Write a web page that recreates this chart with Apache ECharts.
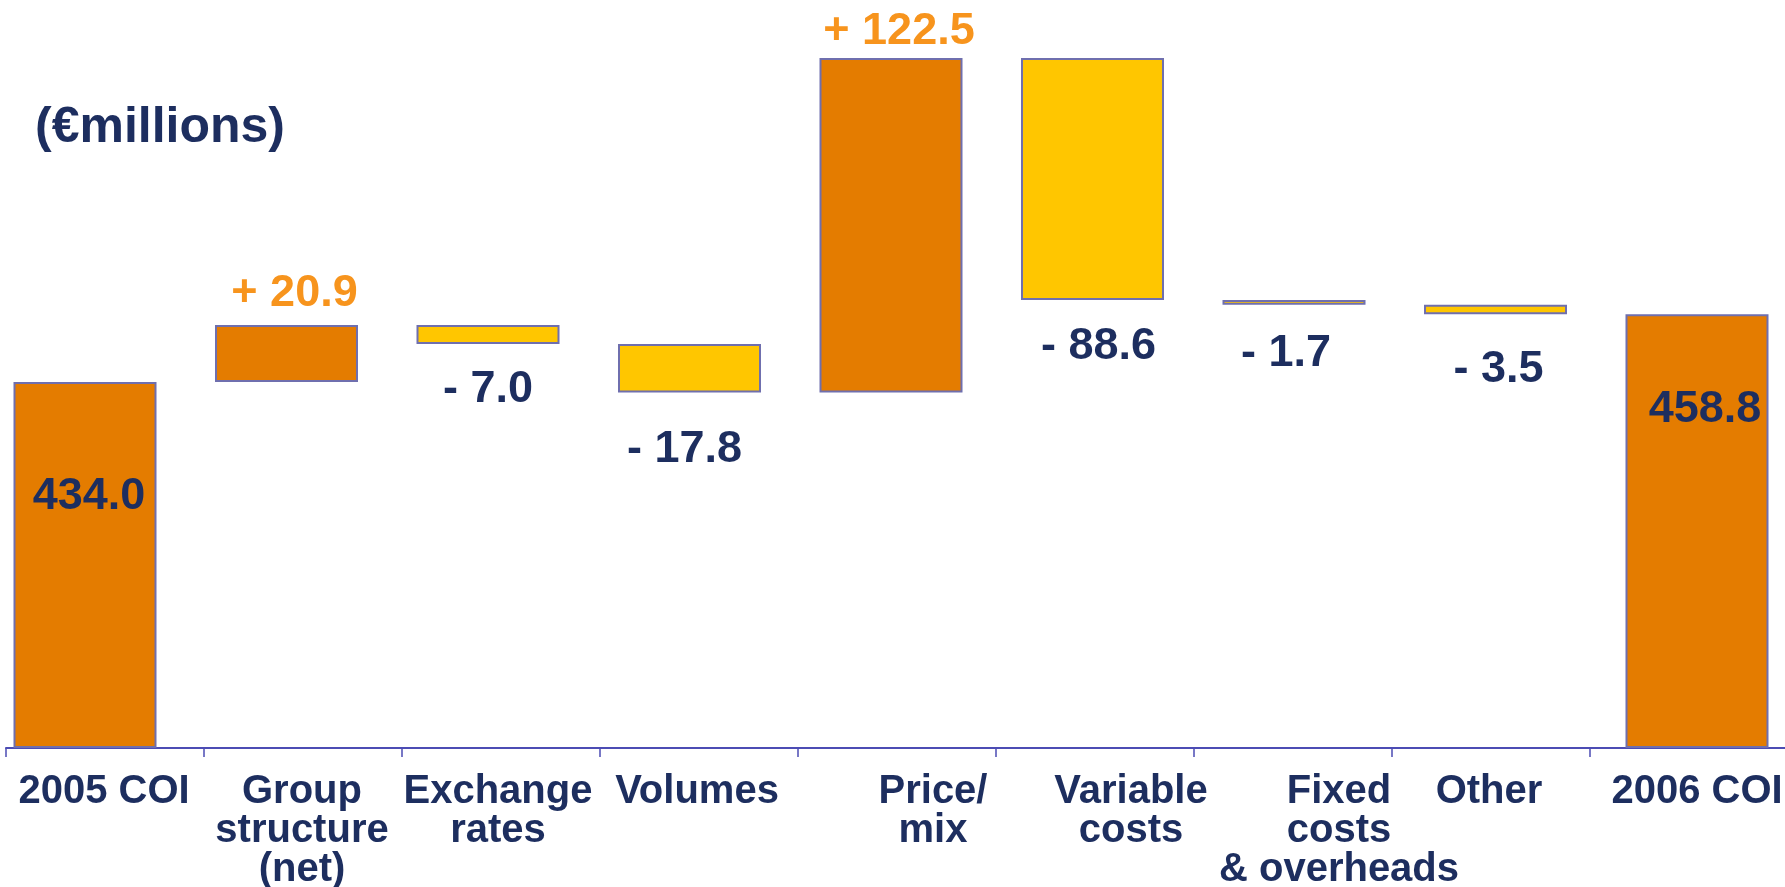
<!DOCTYPE html>
<html>
<head>
<meta charset="utf-8">
<script src="https://cdn.jsdelivr.net/npm/echarts@6/dist/echarts.min.js"></script>
<style>
  html, body { margin: 0; padding: 0; background: #fff; }
  #chart { width: 1785px; height: 887px; }
</style>
</head>
<body>
<div id="chart"></div>
<script>
// data
const categories = ['2005 COI', 'Group\nstructure\n(net)', 'Exchange\nrates', 'Volumes', 'Price/\nmix', 'Variable\ncosts', 'Fixed\ncosts\n& overheads', 'Other', '2006 COI']
const startValue = 434.0
const changes = [20.9, -7.0, -17.8, 122.5, -88.6, -1.7, -3.5]
const endValue = 458.8
const valueLabels = ['434.0', '+ 20.9', '- 7.0', '- 17.8', '+ 122.5', '- 88.6', '- 1.7', '- 3.5', '458.8']
const axisMin = 300
const axisMax = 552.6

// label placement tweaks (px), kept apart from the data
const labelGap = [92, 9, 23, 34, 4, 24, 26, 33, 73]
const labelNudge = [4, 8, 0, -5, 8, 6, -8, 3, 8]
const categoryShift = [-1, -1, -3, -2, 36, 36, 46, -2, 8]

// colours
const navy = '#1d2e5f'
const orange = '#e47c00'
const yellow = '#ffc600'
const lightOrange = '#f7941d'
const edge = '#6f6fae'
const axisBlue = '#4c4cb4'
const font = 'Liberation Sans, Arial, sans-serif'

// build waterfall: transparent base + visible part
const baseData = []
const barData = []
let running = startValue
baseData.push(axisMin)
barData.push({ value: startValue - axisMin, itemStyle: { color: orange } })
changes.forEach(d => {
  const next = running + d
  baseData.push(Math.min(running, next))
  barData.push({ value: Math.abs(d), itemStyle: { color: d >= 0 ? orange : yellow } })
  running = next
})
baseData.push(axisMin)
barData.push({ value: endValue - axisMin, itemStyle: { color: orange } })

const labelFor = (i) => {
  if (i === 0 || i === categories.length - 1) {
    return { position: 'insideTop', distance: labelGap[i], color: navy }
  }
  if (changes[i - 1] >= 0) {
    return { position: 'top', distance: labelGap[i], color: lightOrange }
  }
  return { position: 'bottom', distance: labelGap[i], color: navy }
}

barData.forEach((d, i) => {
  d.label = Object.assign({ show: true, formatter: valueLabels[i], offset: [labelNudge[i], 0] }, labelFor(i))
})

// shift some axis labels sideways through padding
const axisCategories = categories.map((c, i) => {
  const s = categoryShift[i]
  return {
    value: c,
    textStyle: { padding: s >= 0 ? [0, 0, 0, s * 2] : [0, -s * 2, 0, 0] }
  }
})

const chart = echarts.init(document.getElementById('chart'))
chart.setOption({
  animation: false,
  title: {
    text: '(€millions)',
    left: 30,
    top: 98,
    textStyle: { color: navy, fontSize: 50, fontWeight: 'bold', fontFamily: font }
  },
  grid: [
    // bars: centres spaced 201.5px, first at x=85
    { left: 85, width: 1612, top: 58, bottom: 139, outerBoundsMode: 'none' },
    // visible axis with ticks
    { left: 6, width: 1782, top: 58, bottom: 139, outerBoundsMode: 'none' }
  ],
  xAxis: [
    { type: 'category', gridIndex: 0, data: categories, boundaryGap: false, show: false },
    {
      type: 'category',
      gridIndex: 1,
      data: axisCategories,
      axisLine: { show: true, lineStyle: { color: axisBlue, width: 2 } },
      axisTick: { show: true, length: 9, interval: 0, lineStyle: { color: axisBlue, width: 1.5 } },
      axisLabel: {
        margin: 24,
        interval: 0,
        color: navy,
        fontSize: 40,
        lineHeight: 39,
        fontWeight: 'bold',
        fontFamily: font
      }
    }
  ],
  yAxis: [
    { type: 'value', gridIndex: 0, min: axisMin, max: axisMax, show: false },
    { type: 'value', gridIndex: 1, min: axisMin, max: axisMax, show: false }
  ],
  series: [
    {
      type: 'bar',
      stack: 'w',
      xAxisIndex: 0,
      yAxisIndex: 0,
      data: baseData,
      barWidth: 143,
      clip: false,
      itemStyle: { color: 'transparent' },
      silent: true
    },
    {
      type: 'bar',
      stack: 'w',
      xAxisIndex: 0,
      yAxisIndex: 0,
      data: barData,
      barWidth: 143,
      clip: false,
      itemStyle: { borderColor: edge, borderWidth: 2 },
      label: { fontSize: 45, fontWeight: 'bold', fontFamily: font }
    }
  ]
})
</script>
</body>
</html>
